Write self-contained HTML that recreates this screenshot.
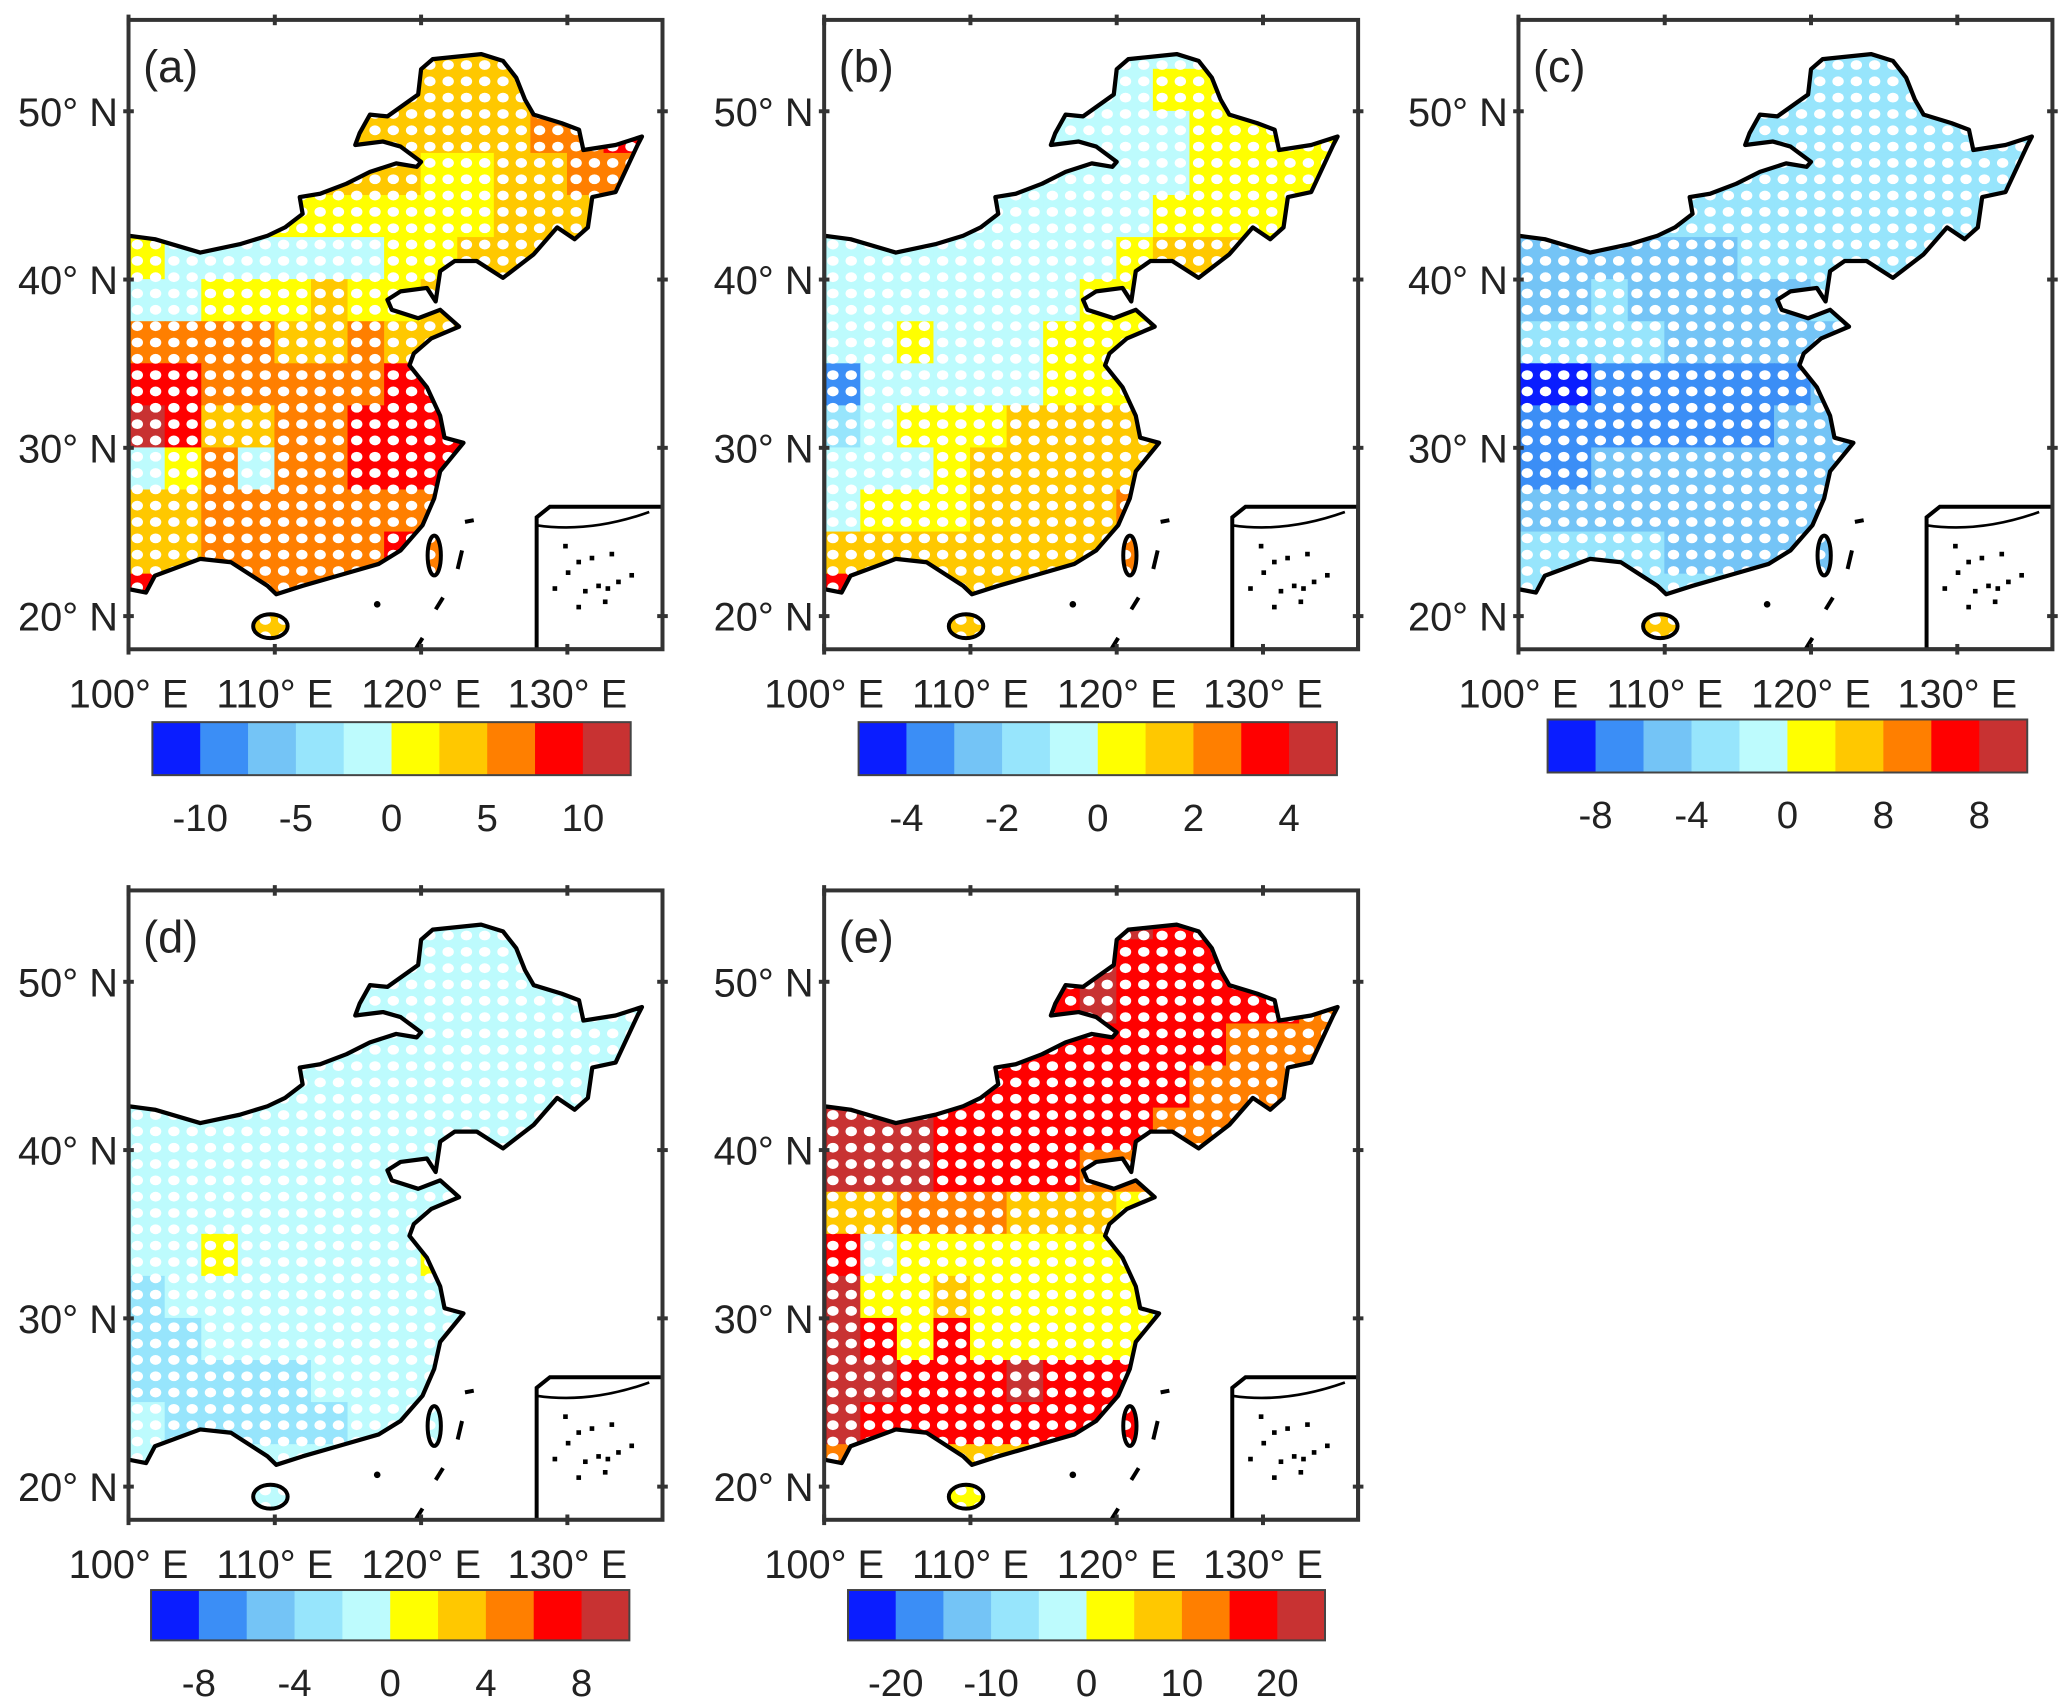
<!DOCTYPE html>
<html><head><meta charset="utf-8"><style>
html,body{margin:0;padding:0;background:#fff;}
svg{display:block;}
text{font-family:"Liberation Sans",sans-serif;fill:#222;}
</style></head><body>
<svg id="fig" width="2067" height="1704" viewBox="0 0 1560 1286" xmlns="http://www.w3.org/2000/svg"></svg>
<script>
// ---- data ----
const levelColors = ["#0a1dff","#3b8ef6","#74c4f6","#97e5fc","#bdfbfd","#ffff00","#ffc800","#ff7f00","#ff0000","#c83232"];
const gridLons = [100,102.5,105,107.5,110,112.5,115,117.5,120,122.5,125,127.5,130,132.5,135];
const gridLatTops = [55,52.5,50,47.5,45,42.5,40,37.5,35,32.5,30,27.5,25,22.5,20];
const gridA = ["666666666666666","666666666667766","666666666667788","666666665566777","555555555566677","544444455666666","445556556666666","777766766666666","887777788866666","986677888866666","457477888866666","667777777866666","667777787766666","887777766666666","666666666666666"];
const gridB = ["444444444444444","444444444555444","444444444455554","444444444455555","444444444555555","444444445666666","444444455566666","445444555566666","144444555666666","345556666666666","444566666766666","455566667776666","666666667766666","886666666666666","666666666666666"];
const gridC = ["333333333333333","333333333333333","333333333333333","333333333333333","333333333333333","222222333333333","223222223333333","333322222333333","001111112222222","111111122222222","112222222222222","222222222222222","333322222222222","333333333333333","666666666666666"];
const gridD = ["444444444444444","444444444444444","444444444444444","444444444444444","444444444444444","444444444444444","444444444444444","444444444444444","445444445444444","344444444444444","334444444444444","333334444444444","433333444444444","454444444444444","444444444444444"];
const gridE = ["999998889888888","998888898888777","999888898888877","889888888887777","999888888877777","999888888777777","999888877777777","667776665566666","845555555566666","955655555466666","985855555666666","998889888666666","988888888666666","776666666666666","555555555555555"];
const lonTicks = [100,110,120,130];
const latTicks = [20,30,40,50];
const cbLabelsA = ["-10","-5","0","5","10"];
const cbLabelsB = ["-4","-2","0","2","4"];
const cbLabelsC = ["-8","-4","0","8","8"];
const cbLabelsD = ["-8","-4","0","4","8"];
const cbLabelsE = ["-20","-10","0","10","20"];
const outline = [[100,42.6],[101.8,42.4],[104.9,41.6],[107.6,42.1],[109.5,42.6],[110.7,43.1],[111.9,43.9],[111.7,44.9],[113.1,45.1],[114.9,45.7],[116.5,46.4],[118.3,46.9],[119.7,46.7],[120,47],[118.6,47.9],[117.4,48.2],[115.5,48.0],[115.8,48.7],[116.5,49.8],[117.7,49.7],[119.8,51.0],[120,52.5],[120.8,53.1],[124.1,53.4],[125.6,53.0],[126.5,52.0],[127.1,50.7],[127.7,49.8],[129.6,49.3],[130.8,48.9],[131.1,47.7],[133.3,48.0],[135.1,48.5],[134.8,48.0],[133.3,45.2],[131.7,44.9],[131.4,43.1],[130.5,42.4],[129.3,43.1],[127.7,41.5],[125.6,40.1],[123.8,41.1],[122.3,41.1],[121.3,40.5],[121.0,38.7],[120.4,39.5],[118.6,39.3],[117.7,38.8],[118,38.2],[119.8,37.7],[121.3,38.2],[122.6,37.2],[120.7,36.5],[119.5,35.6],[119.2,34.9],[120.4,33.6],[121.3,31.9],[121.6,30.6],[122.9,30.3],[121.3,28.6],[120.9,27.0],[120.1,25.4],[118.6,23.9],[117.1,23.1],[114.3,22.4],[111.9,21.8],[110.1,21.3],[109.5,21.8],[107.0,23.2],[104.9,23.4],[101.8,22.4],[101.2,21.4],[100,21.6]];

const NS = "http://www.w3.org/2000/svg";
const svg = document.getElementById('fig');
function mk(tag, attrs, parent){const e=document.createElementNS(NS,tag);for(const k in attrs)e.setAttribute(k,attrs[k]);(parent||svg).appendChild(e);return e;}
const LONPX=11.04, LATPX=12.7, LATTOP=55.43;
const W=403, H=475;

const panels=[
 {id:'a',ox:97,oy:15,grid:gridA,labels:cbLabelsA,cb:[115,545,361,40]},
 {id:'b',ox:622,oy:15,grid:gridB,labels:cbLabelsB,cb:[648,545,361,40]},
 {id:'c',ox:1146,oy:15,grid:gridC,labels:cbLabelsC,cb:[1168,543,362,40]},
 {id:'d',ox:97,oy:672,grid:gridD,labels:cbLabelsD,cb:[114,1200,361,38]},
 {id:'e',ox:622,oy:672,grid:gridE,labels:cbLabelsE,cb:[640,1200,360,38]}
];
const defs=mk('defs',{});
panels.forEach(p=>{
 const px=lon=>p.ox+(lon-100)*LONPX;
 const py=lat=>p.oy+(LATTOP-lat)*LATPX;
 const pts=outline.map(d=>px(d[0]).toFixed(1)+','+py(d[1]).toFixed(1)).join(' ');
 const cp=mk('clipPath',{id:'clip'+p.id},defs);
 mk('polygon',{points:pts},cp);
 mk('ellipse',{cx:px(109.7),cy:py(19.4),rx:13,ry:9},cp);
 mk('ellipse',{cx:px(120.9),cy:py(23.6),rx:5,ry:15},cp);
 const bc=mk('clipPath',{id:'box'+p.id},defs);
 mk('rect',{x:p.ox,y:p.oy,width:W,height:H},bc);

 const g=mk('g',{'clip-path':'url(#box'+p.id+')'});
 
 
 const fill=mk('g',{'clip-path':'url(#clip'+p.id+')'},g);
 
 
 p.grid.forEach((row,r)=>{
  for(let c=0;c<row.length;c++){
   const lv=+row[c];
   const cell=mk('rect',{x:px(gridLons[c])-0.3,y:py(gridLatTops[r])-0.3,width:2.5*LONPX+0.6,height:2.5*LATPX+0.6,fill:levelColors[lv]},fill);
   
   
  }
 });
 for(let la=18.8;la<=54;la+=0.97){for(let lo=100.6;lo<=135;lo+=1.25){
  mk('ellipse',{cx:px(lo),cy:py(la),rx:4.3,ry:3.7,fill:'#fff'},fill);
 }}
 const ol=mk('polygon',{points:pts,fill:'none',stroke:'#000','stroke-width':3.2,'stroke-linejoin':'round'},g);
 
 
 mk('ellipse',{cx:px(109.7),cy:py(19.4),rx:13,ry:9,fill:'none',stroke:'#000','stroke-width':3},g);
 mk('ellipse',{cx:px(120.9),cy:py(23.6),rx:5,ry:15,fill:'none',stroke:'#000','stroke-width':3},g);
 mk('circle',{cx:px(117),cy:py(20.7),r:2.5,fill:'#000'},g);
 [[123,25.6,123.6,25.7],[122.8,23.9,122.5,22.8],[121.5,21.1,121,20.4],[120.1,18.7,119.6,18]].forEach(s=>mk('line',{x1:px(s[0]),y1:py(s[1]),x2:px(s[2]),y2:py(s[3]),stroke:'#000','stroke-width':3},g));
 // inset
 const ix=px(127.9), iy=py(26.5);
 const ins=mk('path',{d:`M${ix},${iy+8} L${ix+10},${iy} L${p.ox+W},${iy} L${p.ox+W},${p.oy+H} L${ix},${p.oy+H} Z`,fill:'#fff',stroke:'#000','stroke-width':3},g);
 
 
 mk('path',{d:`M${ix},${iy+14} Q${ix+40},${iy+20} ${p.ox+W-10},${iy+4}`,fill:'none',stroke:'#000','stroke-width':2},g);
 [[20,28],[30,40],[40,37],[55,34],[22,48],[35,62],[45,58],[52,60],[60,55],[50,70],[12,60],[30,74],[70,50]].forEach(d=>mk('rect',{x:ix+d[0],y:iy+d[1],width:3.5,height:3.5,fill:'#000'},g));
 // frame
 const fr=mk('rect',{x:p.ox,y:p.oy,width:W,height:H,fill:'none',stroke:'#333','stroke-width':3});
 
 
 lonTicks.forEach(lo=>{
  const x=px(lo);
  mk('line',{x1:x,y1:p.oy-4,x2:x,y2:p.oy+4,stroke:'#333','stroke-width':3});
  mk('line',{x1:x,y1:p.oy+H-4,x2:x,y2:p.oy+H+4,stroke:'#333','stroke-width':3});
  const t=mk('text',{x:x,y:p.oy+H+44,'text-anchor':'middle','font-size':30});
  t.textContent=lo+'° E';
  
  
 });
 latTicks.forEach(la=>{
  const y=py(la);
  mk('line',{x1:p.ox-4,y1:y,x2:p.ox+4,y2:y,stroke:'#333','stroke-width':3});
  mk('line',{x1:p.ox+W-4,y1:y,x2:p.ox+W+4,y2:y,stroke:'#333','stroke-width':3});
  const t=mk('text',{x:p.ox-8,y:y+11,'text-anchor':'end','font-size':30});
  t.textContent=la+'° N';
  
  
 });
 const pl=mk('text',{x:p.ox+11,y:p.oy+47,'font-size':34});
 pl.textContent='('+p.id+')';
 
 
 // colorbar
 const [cx,cy,cw,ch]=p.cb;
 const cbg=mk('g',{});
 
 
 levelColors.forEach((col,i)=>{
  const r=mk('rect',{x:cx+i*cw/10,y:cy,width:cw/10+0.5,height:ch,fill:col},cbg);
  
  
 });
 mk('rect',{x:cx,y:cy,width:cw,height:ch,fill:'none',stroke:'#444','stroke-width':1.5},cbg);
 p.labels.forEach((lb,i)=>{
  const t=mk('text',{x:cx+(2*i+1)*cw/10,y:cy+ch+42,'text-anchor':'middle','font-size':29},cbg);
  t.textContent=lb;
  
  
 });
});
</script>
</body></html>
